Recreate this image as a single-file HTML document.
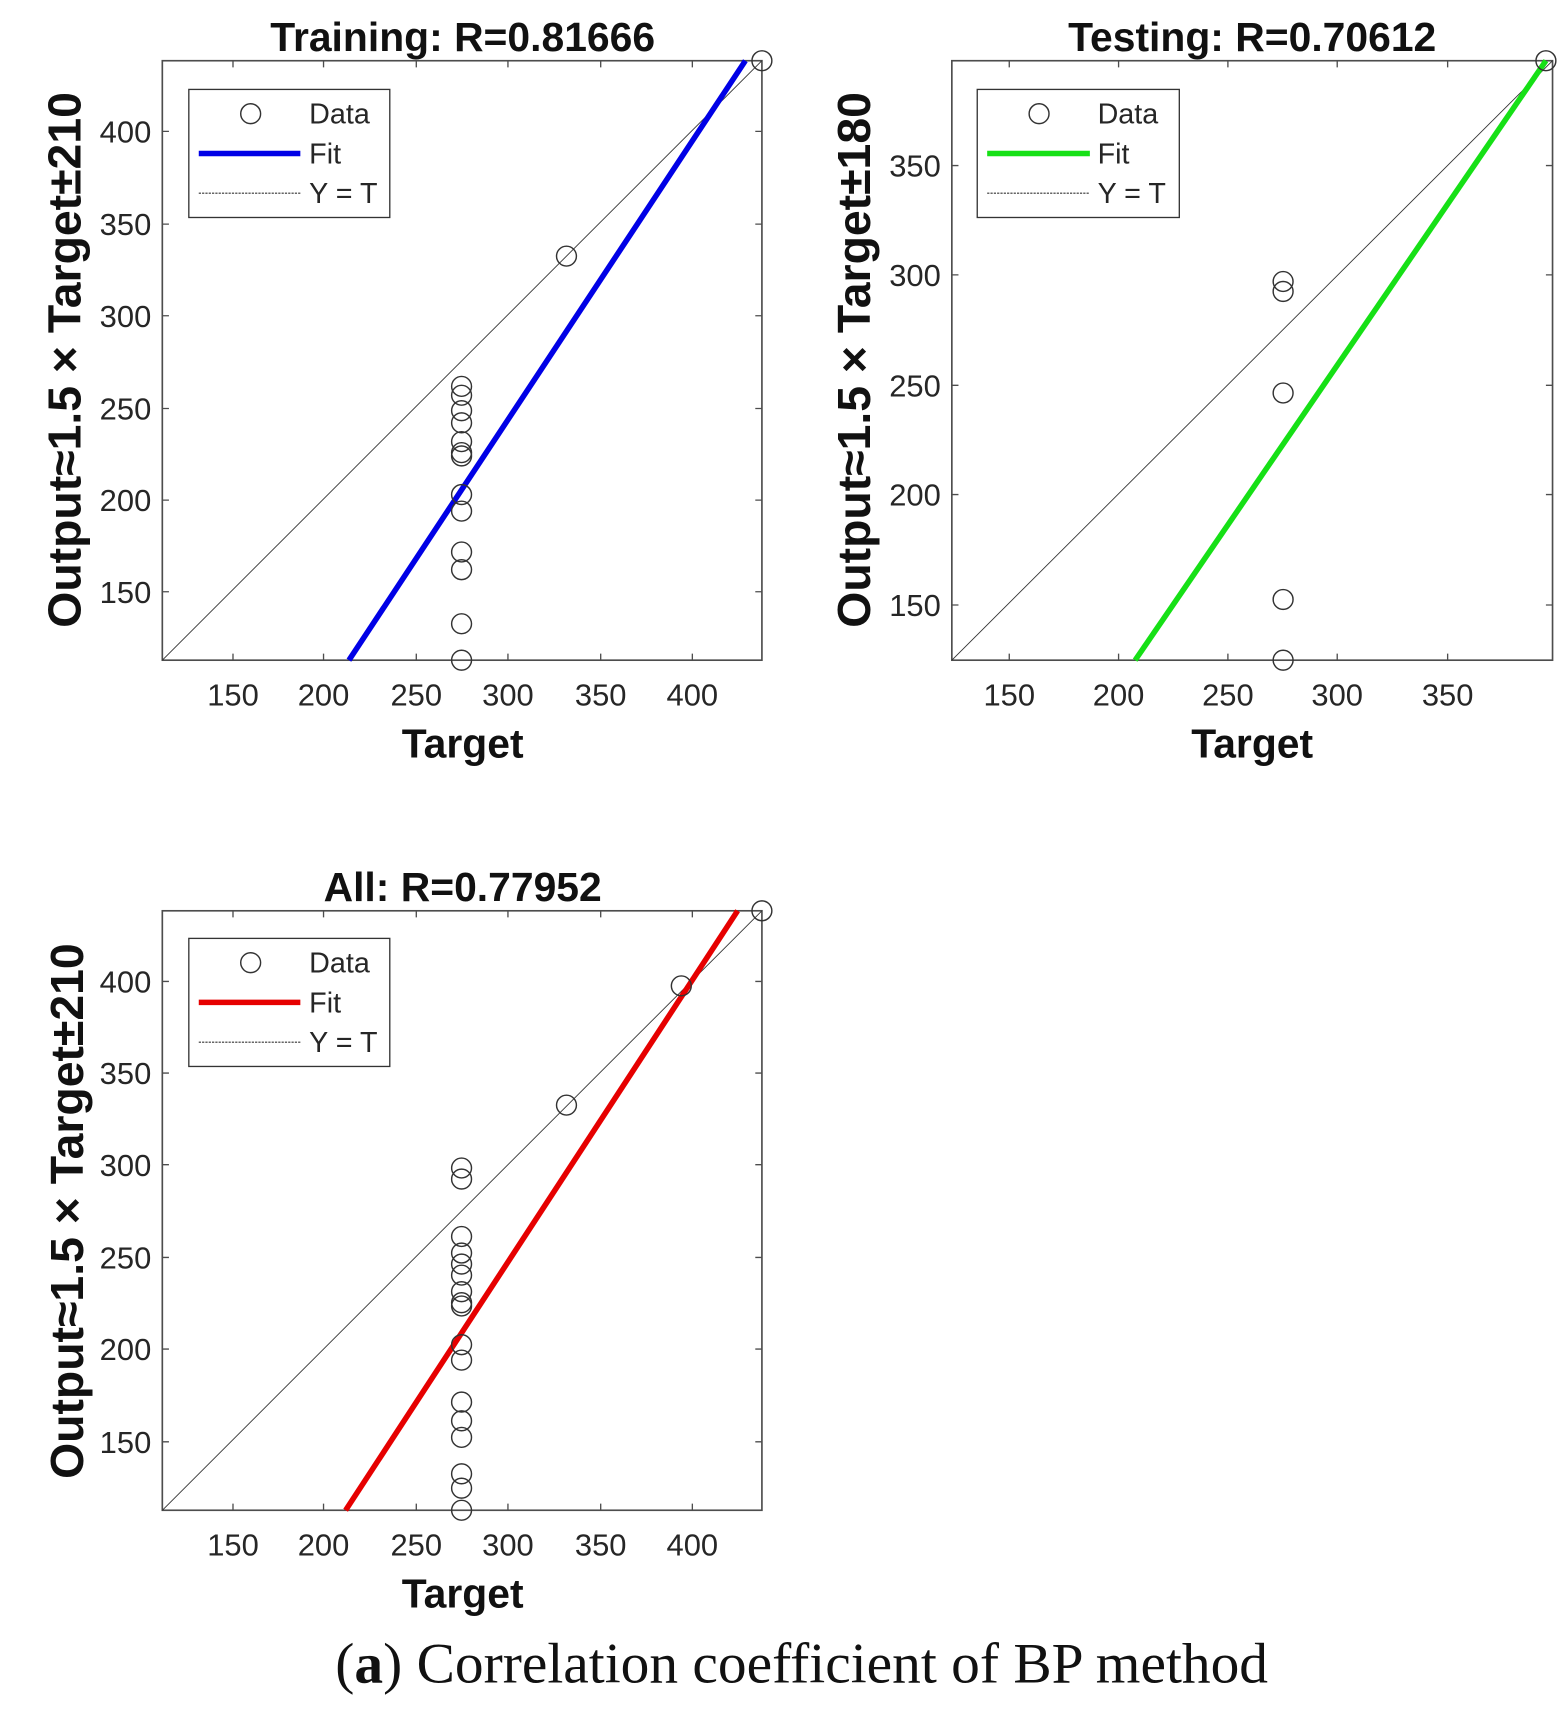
<!DOCTYPE html>
<html><head><meta charset="utf-8"><style>
html,body{margin:0;padding:0;background:#fff;}
svg{display:block;}
text{font-family:"Liberation Sans",Arial,sans-serif;fill:#262626;}
.t{font-size:28px;}
.l{font-size:26px;}
.b{font-weight:bold;fill:#111;}
</style></head><body>
<svg width="1568" height="1723" viewBox="0 0 1420 1560.7" preserveAspectRatio="none" xmlns="http://www.w3.org/2000/svg">
<rect x="0" y="0" width="1420" height="1561" fill="#fff"/>

<!-- Plot 1 -->
<g>
<rect x="147" y="55" width="543" height="543" fill="#fff" stroke="#4d4d4d" stroke-width="1.5"/>
<g stroke="#4d4d4d" stroke-width="1.2">
<path d="M211 598v-6M293 598v-6M377 598v-6M460 598v-6M544 598v-6M627 598v-6M211 55v6M293 55v6M377 55v6M460 55v6M544 55v6M627 55v6"/>
<path d="M147 119h6M147 203h6M147 286h6M147 370h6M147 453h6M147 536h6M690 119h-6M690 203h-6M690 286h-6M690 370h-6M690 453h-6M690 536h-6"/>
</g>
<g class="t" text-anchor="middle">
<text x="211" y="639">150</text><text x="293" y="639">200</text><text x="377" y="639">250</text><text x="460" y="639">300</text><text x="544" y="639">350</text><text x="627" y="639">400</text>
</g>
<g class="t" text-anchor="end">
<text x="137" y="129">400</text><text x="137" y="213">350</text><text x="137" y="296">300</text><text x="137" y="380">250</text><text x="137" y="463">200</text><text x="137" y="546">150</text>
</g>
<line x1="147" y1="598" x2="690" y2="55" stroke="#333" stroke-width="0.8"/>
<line x1="316" y1="598" x2="675" y2="55" stroke="#0000e6" stroke-width="5"/>
<g fill="none" stroke="#333" stroke-width="1.3">
<circle cx="418" cy="350" r="9"/><circle cx="418" cy="358" r="9"/><circle cx="418" cy="372" r="9"/><circle cx="418" cy="383" r="9"/><circle cx="418" cy="400" r="9"/><circle cx="418" cy="410" r="9"/><circle cx="418" cy="413" r="9"/><circle cx="418" cy="448" r="9"/><circle cx="418" cy="463" r="9"/><circle cx="418" cy="500" r="9"/><circle cx="418" cy="516" r="9"/><circle cx="418" cy="565" r="9"/><circle cx="418" cy="598" r="9"/><circle cx="513" cy="232" r="9"/><circle cx="690" cy="55" r="9"/>
</g>
<rect x="171" y="81" width="182" height="116" fill="#fff" stroke="#333" stroke-width="1.2"/>
<circle cx="227" cy="103" r="9" fill="none" stroke="#333" stroke-width="1.3"/>
<line x1="180" y1="139" x2="272" y2="139" stroke="#0000e6" stroke-width="5"/>
<line x1="180" y1="175" x2="272" y2="175" stroke="#333" stroke-width="1" stroke-dasharray="2,1"/>
<g class="l"><text x="280" y="112">Data</text><text x="280" y="148">Fit</text><text x="280" y="184">Y = T</text></g>
<text x="419" y="46" text-anchor="middle" class="b" font-size="37">Training: R=0.81666</text>
<text x="419" y="686" text-anchor="middle" class="b" font-size="37">Target</text>
<text transform="translate(73,326) rotate(-90)" text-anchor="middle" class="b" font-size="42">Output≈1.5 × Target±210</text>
</g>

<!-- Plot 2 -->
<g>
<rect x="862" y="55" width="544" height="543" fill="#fff" stroke="#4d4d4d" stroke-width="1.5"/>
<g stroke="#4d4d4d" stroke-width="1.2">
<path d="M914 598v-6M1013 598v-6M1112 598v-6M1211 598v-6M1311 598v-6M914 55v6M1013 55v6M1112 55v6M1211 55v6M1311 55v6"/>
<path d="M862 150h6M862 249h6M862 349h6M862 448h6M862 548h6M1406 150h-6M1406 249h-6M1406 349h-6M1406 448h-6M1406 548h-6"/>
</g>
<g class="t" text-anchor="middle">
<text x="914" y="639">150</text><text x="1013" y="639">200</text><text x="1112" y="639">250</text><text x="1211" y="639">300</text><text x="1311" y="639">350</text>
</g>
<g class="t" text-anchor="end">
<text x="852" y="160">350</text><text x="852" y="259">300</text><text x="852" y="359">250</text><text x="852" y="458">200</text><text x="852" y="558">150</text>
</g>
<line x1="862" y1="598" x2="1406" y2="55" stroke="#333" stroke-width="0.8"/>
<line x1="1028" y1="598" x2="1400" y2="55" stroke="#16e016" stroke-width="5"/>
<g fill="none" stroke="#333" stroke-width="1.3">
<circle cx="1162" cy="255" r="9"/><circle cx="1162" cy="264" r="9"/><circle cx="1162" cy="356" r="9"/><circle cx="1162" cy="543" r="9"/><circle cx="1162" cy="598" r="9"/><circle cx="1400" cy="55" r="9"/>
</g>
<rect x="885" y="81" width="183" height="116" fill="#fff" stroke="#333" stroke-width="1.2"/>
<circle cx="941" cy="103" r="9" fill="none" stroke="#333" stroke-width="1.3"/>
<line x1="894" y1="139" x2="987" y2="139" stroke="#16e016" stroke-width="5"/>
<line x1="894" y1="175" x2="987" y2="175" stroke="#333" stroke-width="1" stroke-dasharray="2,1"/>
<g class="l"><text x="994" y="112">Data</text><text x="994" y="148">Fit</text><text x="994" y="184">Y = T</text></g>
<text x="1134" y="46" text-anchor="middle" class="b" font-size="37">Testing: R=0.70612</text>
<text x="1134" y="686" text-anchor="middle" class="b" font-size="37">Target</text>
<text transform="translate(788,326) rotate(-90)" text-anchor="middle" class="b" font-size="42">Output≈1.5 × Target±180</text>
</g>

<!-- Plot 3 -->
<g>
<rect x="147" y="825" width="543" height="543" fill="#fff" stroke="#4d4d4d" stroke-width="1.5"/>
<g stroke="#4d4d4d" stroke-width="1.2">
<path d="M211 1368v-6M293 1368v-6M377 1368v-6M460 1368v-6M544 1368v-6M627 1368v-6M211 825v6M293 825v6M377 825v6M460 825v6M544 825v6M627 825v6"/>
<path d="M147 889h6M147 972h6M147 1055h6M147 1139h6M147 1222h6M147 1306h6M690 889h-6M690 972h-6M690 1055h-6M690 1139h-6M690 1222h-6M690 1306h-6"/>
</g>
<g class="t" text-anchor="middle">
<text x="211" y="1409">150</text><text x="293" y="1409">200</text><text x="377" y="1409">250</text><text x="460" y="1409">300</text><text x="544" y="1409">350</text><text x="627" y="1409">400</text>
</g>
<g class="t" text-anchor="end">
<text x="137" y="899">400</text><text x="137" y="982">350</text><text x="137" y="1065">300</text><text x="137" y="1149">250</text><text x="137" y="1232">200</text><text x="137" y="1316">150</text>
</g>
<line x1="147" y1="1368" x2="690" y2="825" stroke="#333" stroke-width="0.8"/>
<line x1="313" y1="1368" x2="668" y2="825" stroke="#e60000" stroke-width="5"/>
<g fill="none" stroke="#333" stroke-width="1.3">
<circle cx="418" cy="1058" r="9"/><circle cx="418" cy="1068" r="9"/><circle cx="418" cy="1120" r="9"/><circle cx="418" cy="1135" r="9"/><circle cx="418" cy="1145" r="9"/><circle cx="418" cy="1155" r="9"/><circle cx="418" cy="1170" r="9"/><circle cx="418" cy="1180" r="9"/><circle cx="418" cy="1183" r="9"/><circle cx="418" cy="1218" r="9"/><circle cx="418" cy="1232" r="9"/><circle cx="418" cy="1270" r="9"/><circle cx="418" cy="1287" r="9"/><circle cx="418" cy="1302" r="9"/><circle cx="418" cy="1335" r="9"/><circle cx="418" cy="1348" r="9"/><circle cx="418" cy="1368" r="9"/><circle cx="513" cy="1001" r="9"/><circle cx="617" cy="893" r="9"/><circle cx="690" cy="825" r="9"/>
</g>
<rect x="171" y="850" width="182" height="116" fill="#fff" stroke="#333" stroke-width="1.2"/>
<circle cx="227" cy="872" r="9" fill="none" stroke="#333" stroke-width="1.3"/>
<line x1="180" y1="908" x2="272" y2="908" stroke="#e60000" stroke-width="5"/>
<line x1="180" y1="944" x2="272" y2="944" stroke="#333" stroke-width="1" stroke-dasharray="2,1"/>
<g class="l"><text x="280" y="881">Data</text><text x="280" y="917">Fit</text><text x="280" y="953">Y = T</text></g>
<text x="419" y="816" text-anchor="middle" class="b" font-size="37">All: R=0.77952</text>
<text x="419" y="1456" text-anchor="middle" class="b" font-size="37">Target</text>
<text transform="translate(75,1097) rotate(-90)" text-anchor="middle" class="b" font-size="42">Output≈1.5 × Target±210</text>
</g>

<text x="726" y="1524" text-anchor="middle" font-size="52" style="font-family:'Liberation Serif',serif;fill:#111">(<tspan font-weight="bold">a</tspan>) Correlation coefficient of BP method</text>
</svg>
</body></html>
